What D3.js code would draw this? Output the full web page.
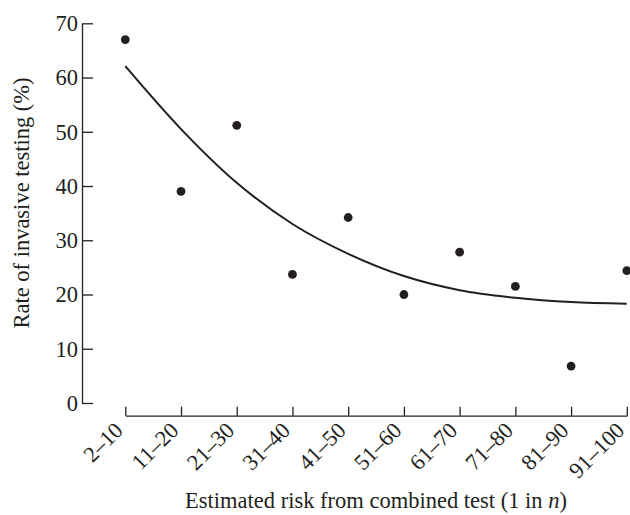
<!DOCTYPE html>
<html>
<head>
<meta charset="utf-8">
<script src="https://cdn.jsdelivr.net/npm/d3@7"></script>
<style>
  body { margin: 0; background: #fff; }
  svg { display: block; }
  text { font-family: "Liberation Serif", "DejaVu Serif", serif; fill: #231f20; }
</style>
</head>
<body>
<svg id="chart" width="630" height="515"></svg>
<script>
const categories = ["2–10", "11–20", "21–30", "31–40", "41–50", "51–60", "61–70", "71–80", "81–90", "91–100"];
const observedRate = [67.0, 39.0, 51.2, 23.7, 34.2, 20.0, 27.8, 21.5, 6.8, 24.4];
const fittedRate = [62.1, 50.5, 40.6, 33.0, 27.5, 23.4, 20.8, 19.4, 18.6, 18.3];
const yTicks = [0, 10, 20, 30, 40, 50, 60, 70];
const xTitle = "Estimated risk from combined test (1 in ";
const yTitle = "Rate of invasive testing (%)";

const ink = "#231f20";
const fs = 22.5;
const svg = d3.select("#chart");

const x = d3.scalePoint().domain(categories).range([125.3, 626.8]);
const y = d3.scaleLinear().domain([0, 70]).range([403, 23.3]);

// Y axis
const yAxis = svg.append("g").attr("transform", "translate(82,0)")
  .call(d3.axisLeft(y).tickValues(yTicks).tickSizeInner(-11).tickSizeOuter(0).tickPadding(4));
yAxis.selectAll("path, line").attr("stroke", ink).attr("stroke-width", 1.3);
yAxis.selectAll("text").attr("font-size", fs).attr("fill", ink)
  .attr("font-family", "Liberation Serif, serif").attr("dy", "0.33em");

// X axis
const xAxis = svg.append("g").attr("transform", "translate(0,415.7)")
  .call(d3.axisBottom(x).tickSizeInner(-9).tickSizeOuter(0));
xAxis.selectAll("path, line").attr("stroke", ink).attr("stroke-width", 1.3);
xAxis.selectAll("text")
  .attr("font-size", fs).attr("fill", ink)
  .attr("font-family", "Liberation Serif, serif")
  .attr("text-anchor", "end")
  .attr("y", 0).attr("dy", 0)
  .attr("transform", "translate(-1.5,16) rotate(-45)");

// fitted curve
const line = d3.line()
  .x((d, i) => x(categories[i]))
  .y(d => y(d))
  .curve(d3.curveMonotoneX);
svg.append("path").datum(fittedRate)
  .attr("d", line).attr("fill", "none")
  .attr("stroke", ink).attr("stroke-width", 2);

// observed points
svg.append("g").selectAll("circle").data(observedRate).join("circle")
  .attr("cx", (d, i) => x(categories[i]))
  .attr("cy", d => y(d))
  .attr("r", 4.4)
  .attr("fill", ink);

// titles
const xt = svg.append("text")
  .attr("x", 376).attr("y", 508)
  .attr("text-anchor", "middle")
  .attr("font-size", fs);
xt.append("tspan").text(xTitle);
xt.append("tspan").attr("font-style", "italic").text("n");
xt.append("tspan").text(")");

svg.append("text")
  .attr("transform", "translate(29,203) rotate(-90)")
  .attr("text-anchor", "middle")
  .attr("font-size", fs)
  .text(yTitle);
</script>
</body>
</html>
